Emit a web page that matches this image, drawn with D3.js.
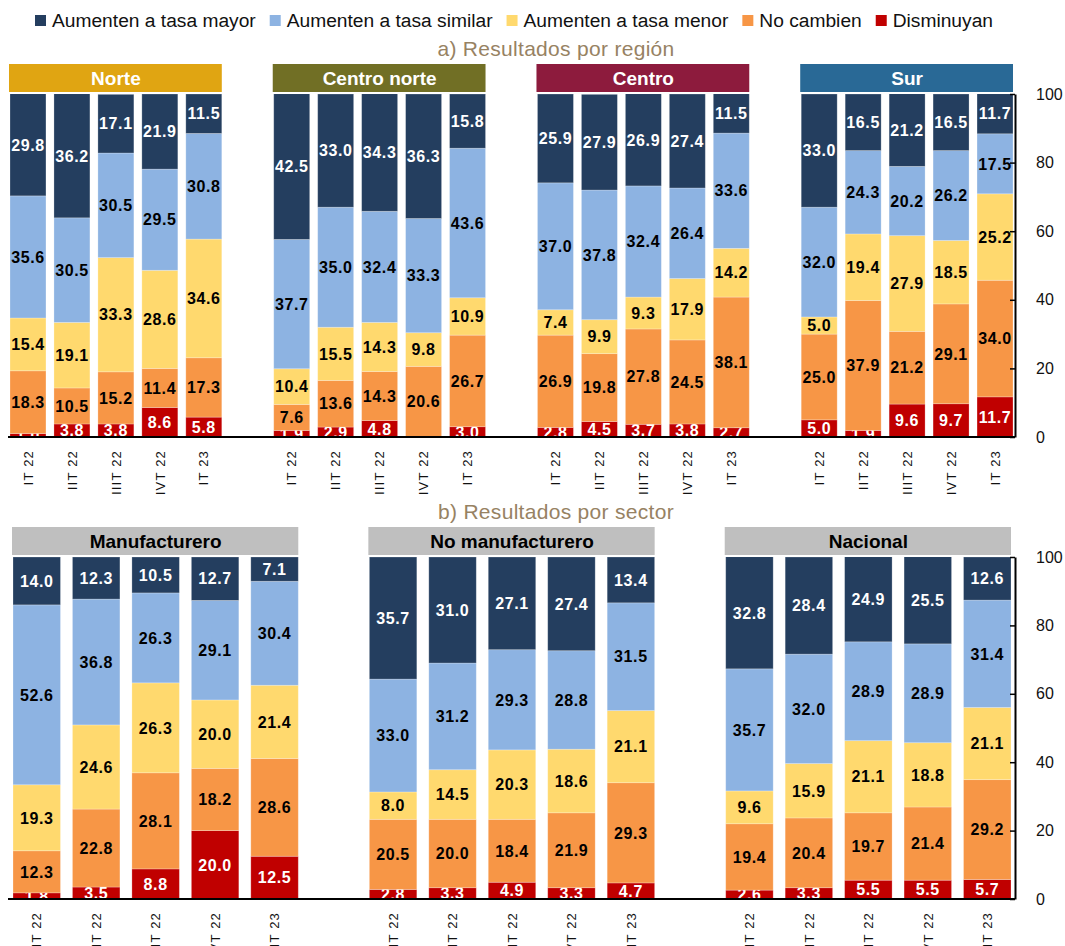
<!DOCTYPE html>
<html lang="es">
<head>
<meta charset="UTF-8">
<title>Resultados por región y por sector</title>
<script src="https://d3js.org/d3.v7.min.js"></script>
<style>
  body { margin: 0; background: #fff; }
  svg text { font-family: "Liberation Sans", Arial, sans-serif; }
</style>
</head>
<body>
<div id="chart"></div>
<script>
var periods = ["IT 22", "IIT 22", "IIIT 22", "IVT 22", "IT 23"];
var seriesNames = ["Aumenten a tasa mayor", "Aumenten a tasa similar", "Aumenten a tasa menor", "No cambien", "Disminuyan"];
var regionNames = ["Norte", "Centro norte", "Centro", "Sur"];
var sectorNames = ["Manufacturero", "No manufacturero", "Nacional"];
var yTicks = [0, 20, 40, 60, 80, 100];

// one row per period, values from the bottom of the bar up:
// Disminuyan, No cambien, a tasa menor, a tasa similar, a tasa mayor
var norte = [
  [1.0, 18.3, 15.4, 35.6, 29.8],
  [3.8, 10.5, 19.1, 30.5, 36.2],
  [3.8, 15.2, 33.3, 30.5, 17.1],
  [8.6, 11.4, 28.6, 29.5, 21.9],
  [5.8, 17.3, 34.6, 30.8, 11.5]
];
var centroNorte = [
  [1.9, 7.6, 10.4, 37.7, 42.5],
  [2.9, 13.6, 15.5, 35.0, 33.0],
  [4.8, 14.3, 14.3, 32.4, 34.3],
  [0.0, 20.6, 9.8, 33.3, 36.3],
  [3.0, 26.7, 10.9, 43.6, 15.8]
];
var centro = [
  [2.8, 26.9, 7.4, 37.0, 25.9],
  [4.5, 19.8, 9.9, 37.8, 27.9],
  [3.7, 27.8, 9.3, 32.4, 26.9],
  [3.8, 24.5, 17.9, 26.4, 27.4],
  [2.7, 38.1, 14.2, 33.6, 11.5]
];
var sur = [
  [5.0, 25.0, 5.0, 32.0, 33.0],
  [1.9, 37.9, 19.4, 24.3, 16.5],
  [9.6, 21.2, 27.9, 20.2, 21.2],
  [9.7, 29.1, 18.5, 26.2, 16.5],
  [11.7, 34.0, 25.2, 17.5, 11.7]
];
var manufacturero = [
  [1.8, 12.3, 19.3, 52.6, 14.0],
  [3.5, 22.8, 24.6, 36.8, 12.3],
  [8.8, 28.1, 26.3, 26.3, 10.5],
  [20.0, 18.2, 20.0, 29.1, 12.7],
  [12.5, 28.6, 21.4, 30.4, 7.1]
];
var noManufacturero = [
  [2.8, 20.5, 8.0, 33.0, 35.7],
  [3.3, 20.0, 14.5, 31.2, 31.0],
  [4.9, 18.4, 20.3, 29.3, 27.1],
  [3.3, 21.9, 18.6, 28.8, 27.4],
  [4.7, 29.3, 21.1, 31.5, 13.4]
];
var nacional = [
  [2.6, 19.4, 9.6, 35.7, 32.8],
  [3.3, 20.4, 15.9, 32.0, 28.4],
  [5.5, 19.7, 21.1, 28.9, 24.9],
  [5.5, 21.4, 18.8, 28.9, 25.5],
  [5.7, 29.2, 21.1, 31.4, 12.6]
];

var colors = {
  "Aumenten a tasa mayor": "#243e5f",
  "Aumenten a tasa similar": "#8db3e2",
  "Aumenten a tasa menor": "#ffd96e",
  "No cambien": "#f79646",
  "Disminuyan": "#c00000"
};
var whiteLabels = ["Aumenten a tasa mayor", "Disminuyan"];
var stackOrder = seriesNames.slice().reverse();

var svg = d3.select("#chart").append("svg")
    .attr("width", 1065)
    .attr("height", 946);

// legend
var lx = 35;
seriesNames.forEach(function(s) {
  svg.append("rect")
      .attr("x", lx).attr("y", 15)
      .attr("width", 11).attr("height", 11)
      .attr("fill", colors[s]);
  var t = svg.append("text")
      .attr("x", lx + 17).attr("y", 27)
      .style("font-size", "19.2px")
      .attr("fill", "#111")
      .text(s);
  lx = lx + 17 + t.node().getComputedTextLength() + 14;
});

function drawSection(cfg) {
  var y = d3.scaleLinear().domain([0, 100]).range([cfg.bottom, cfg.top]);
  var x0 = d3.scaleBand().domain(cfg.names).range(cfg.xRange).paddingInner(cfg.groupPad);
  var x1 = d3.scaleBand().domain(periods).range([0, x0.bandwidth()]).paddingInner(cfg.barPad);

  var sec = svg.append("g");

  sec.append("text")
      .attr("x", 556).attr("y", cfg.titleY)
      .attr("text-anchor", "middle")
      .style("font-size", "21px")
      .style("letter-spacing", "0.3px")
      .attr("fill", "#978263")
      .text(cfg.title);

  cfg.names.forEach(function(name, i) {
    var rows = cfg.data[i].map(function(r, j) {
      var o = {period: periods[j]};
      stackOrder.forEach(function(k, n) { o[k] = r[n]; });
      return o;
    });
    var stacked = d3.stack().keys(stackOrder)(rows);

    var g = sec.append("g").attr("transform", "translate(" + x0(name) + ",0)");

    g.append("rect")
        .attr("x", -1).attr("y", cfg.top - 30)
        .attr("width", x0.bandwidth() + 1).attr("height", 28)
        .attr("fill", cfg.headerFill[i]);
    g.append("text")
        .attr("x", x0.bandwidth() / 2).attr("y", cfg.top - 16)
        .attr("dy", ".36em")
        .attr("text-anchor", "middle")
        .style("font-size", "19px").style("font-weight", "bold")
        .attr("fill", cfg.headerText)
        .text(name);

    var clipId = cfg.id + "-clip-" + i;
    g.append("clipPath").attr("id", clipId)
      .append("rect")
        .attr("x", -2).attr("y", cfg.top)
        .attr("width", x0.bandwidth() + 4)
        .attr("height", cfg.bottom - cfg.top + 1);

    var plot = g.append("g").attr("clip-path", "url(#" + clipId + ")");

    var layer = plot.selectAll(".layer")
        .data(stacked)
      .enter().append("g")
        .attr("class", "layer")
        .attr("fill", function(d) { return colors[d.key]; });

    layer.selectAll("rect")
        .data(function(d) { return d; })
      .enter().append("rect")
        .attr("x", function(d) { return x1(d.data.period); })
        .attr("width", x1.bandwidth())
        .attr("y", function(d) { return y(d[1]); })
        .attr("height", function(d) { return y(d[0]) - y(d[1]); })
        .attr("stroke", "#fff").attr("stroke-opacity", 0.3).attr("stroke-width", 0.8);

    layer.selectAll("text")
        .data(function(d) {
          return d.filter(function(p) { return p[1] - p[0] > 0; })
                  .map(function(p) { return {p: p, key: d.key}; });
        })
      .enter().append("text")
        .attr("x", function(d) { return x1(d.p.data.period) + x1.bandwidth() / 2; })
        .attr("y", function(d) { return (y(d.p[0]) + y(d.p[1])) / 2; })
        .attr("dy", ".36em")
        .attr("text-anchor", "middle")
        .style("font-size", "16px").style("font-weight", "bold")
        .style("letter-spacing", "0.6px")
        .attr("fill", function(d) { return whiteLabels.indexOf(d.key) >= 0 ? "#fff" : "#000"; })
        .text(function(d) { return d.p.data[d.key].toFixed(1); });

    // period labels, rotated
    g.selectAll(".period")
        .data(periods)
      .enter().append("text")
        .attr("class", "period")
        .attr("transform", function(d) {
          return "translate(" + (x1(d) + x1.bandwidth() / 2) + "," + (cfg.bottom + 13) + ") rotate(-90)";
        })
        .attr("dy", ".36em")
        .attr("text-anchor", "end")
        .style("font-size", "13px")
        .style("letter-spacing", "1.2px")
        .attr("fill", "#111")
        .text(function(d) { return d; });
  });

  // baseline
  sec.append("line")
      .attr("x1", 8).attr("x2", cfg.axisX)
      .attr("y1", y(0)).attr("y2", y(0))
      .attr("stroke", "#000").attr("stroke-width", 2);

  var axis = sec.append("g")
      .attr("transform", "translate(" + cfg.axisX + ",0)")
      .call(d3.axisRight(y).tickValues(yTicks).tickSizeInner(-5).tickSizeOuter(0).tickPadding(21));
  axis.select(".domain").attr("stroke-width", 2);
  axis.selectAll(".tick line").attr("stroke-width", 1.5);
  axis.selectAll("text")
      .style("font-size", "16px")
      .style("font-family", "'Liberation Sans', Arial, sans-serif")
      .attr("fill", "#111");
}

drawSection({
  id: "region",
  title: "a) Resultados por región",
  titleY: 56,
  names: regionNames,
  data: [norte, centroNorte, centro, sur],
  headerFill: ["#e0a512", "#716f25", "#8d1b3d", "#296996"],
  headerText: "#fff",
  top: 94, bottom: 437,
  xRange: [10, 1013], groupPad: 52 / 264, barPad: 8 / 44,
  axisX: 1015
});

drawSection({
  id: "sector",
  title: "b) Resultados por sector",
  titleY: 519,
  names: sectorNames,
  data: [manufacturero, noManufacturero, nacional],
  headerFill: ["#bfbfbf", "#bfbfbf", "#bfbfbf"],
  headerText: "#000",
  top: 557, bottom: 899,
  xRange: [13, 1011], groupPad: 71 / 356, barPad: 12 / 59.5,
  axisX: 1015
});
</script>
</body>
</html>
